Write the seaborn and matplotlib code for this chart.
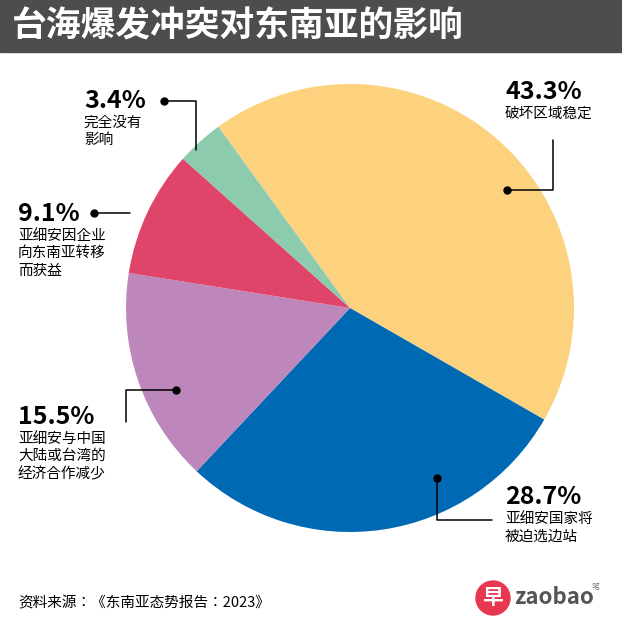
import matplotlib
matplotlib.use("Agg")
import matplotlib.pyplot as plt
from matplotlib import font_manager
import seaborn as sns

sns.set_style("white")
cjk = sorted({f.name for f in font_manager.fontManager.ttflist if 'CJK' in f.name})
plt.rcParams['font.family'] = 'sans-serif'
plt.rcParams['font.sans-serif'] = ['Noto Sans CJK SC', 'Noto Sans CJK JP'] + cjk + ['DejaVu Sans']

# data
labels = ['破坏区域稳定', '亚细安国家将\n被迫选边站', '亚细安与中国\n大陆或台湾的\n经济合作减少',
          '亚细安因企业\n向东南亚转移\n而获益', '完全没有\n影响']
values = [43.3, 28.7, 15.5, 9.1, 3.4]
colors = ['#FDD27E', '#0069B4', '#BE87BB', '#DF4469', '#8DCBAF']

W, H = 622, 628
fig = plt.figure(figsize=(W / 100, H / 100), dpi=100)

cx, cy, r = 350, 308, 224
ax = fig.add_axes([(cx - r) / W, 1 - (cy + r) / H, 2 * r / W, 2 * r / H])
ax.pie(values, colors=colors, startangle=126, counterclock=False,
       wedgeprops=dict(edgecolor='none'))
ax.set_xlim(-1, 1)
ax.set_ylim(-1, 1)
ax.set_aspect('equal')
ax.axis('off')

# overlay in pixel coords, on top of the pie
ov = fig.add_axes([0, 0, 1, 1])
ov.set_xlim(0, W)
ov.set_ylim(H, 0)
ov.axis('off')
ov.patch.set_alpha(0)

# title bar
ov.add_patch(plt.Rectangle((0, 0), W, 52, color='#4D4D4D'))
ov.text(12, 26, '台海爆发冲突对东南亚的影响', color='white', fontsize=25,
        fontweight='bold', va='center', ha='left')

# callouts: (dot, path points, label pos)
callouts = [
    ((507, 190), [(553, 190), (553, 140)], (505, 92)),
    ((437, 478), [(437, 520), (492, 520)], (505, 497)),
    ((176, 390), [(126, 390), (126, 422)], (18, 417)),
    ((94, 213), [(130, 213)], (18, 214)),
    ((164, 101), [(196, 101), (196, 150)], (84, 101)),
]
for (dot, path, pos), lab, v in zip(callouts, labels, values):
    xs = [dot[0]] + [p[0] for p in path]
    ys = [dot[1]] + [p[1] for p in path]
    ov.plot(xs, ys, color='black', lw=1.1)
    ov.plot(*dot, 'o', color='black', ms=5)
    ov.text(pos[0], pos[1], f'{v}%', fontsize=18, fontweight='bold', va='center', ha='left', color='black')
    ov.text(pos[0], pos[1] + 15, lab, fontsize=10.5, va='top', ha='left', linespacing=1.3, color='black')

# footer
ov.text(18, 603, '资料来源：《东南亚态势报告：2023》', fontsize=10.5, va='center', ha='left', color='black')
ov.add_patch(plt.Circle((493, 598), 17, color='#E8384F'))
ov.text(493, 598, '早', color='white', fontsize=15, fontweight='bold', ha='center', va='center')
ov.text(514, 598, 'zaobao', color='#555555', fontsize=16, fontweight='bold', ha='left', va='center')
ov.text(592, 585, 'sg', color='#777777', fontsize=6, ha='left', va='center')

fig.savefig('out.png', dpi=100, facecolor='white')
